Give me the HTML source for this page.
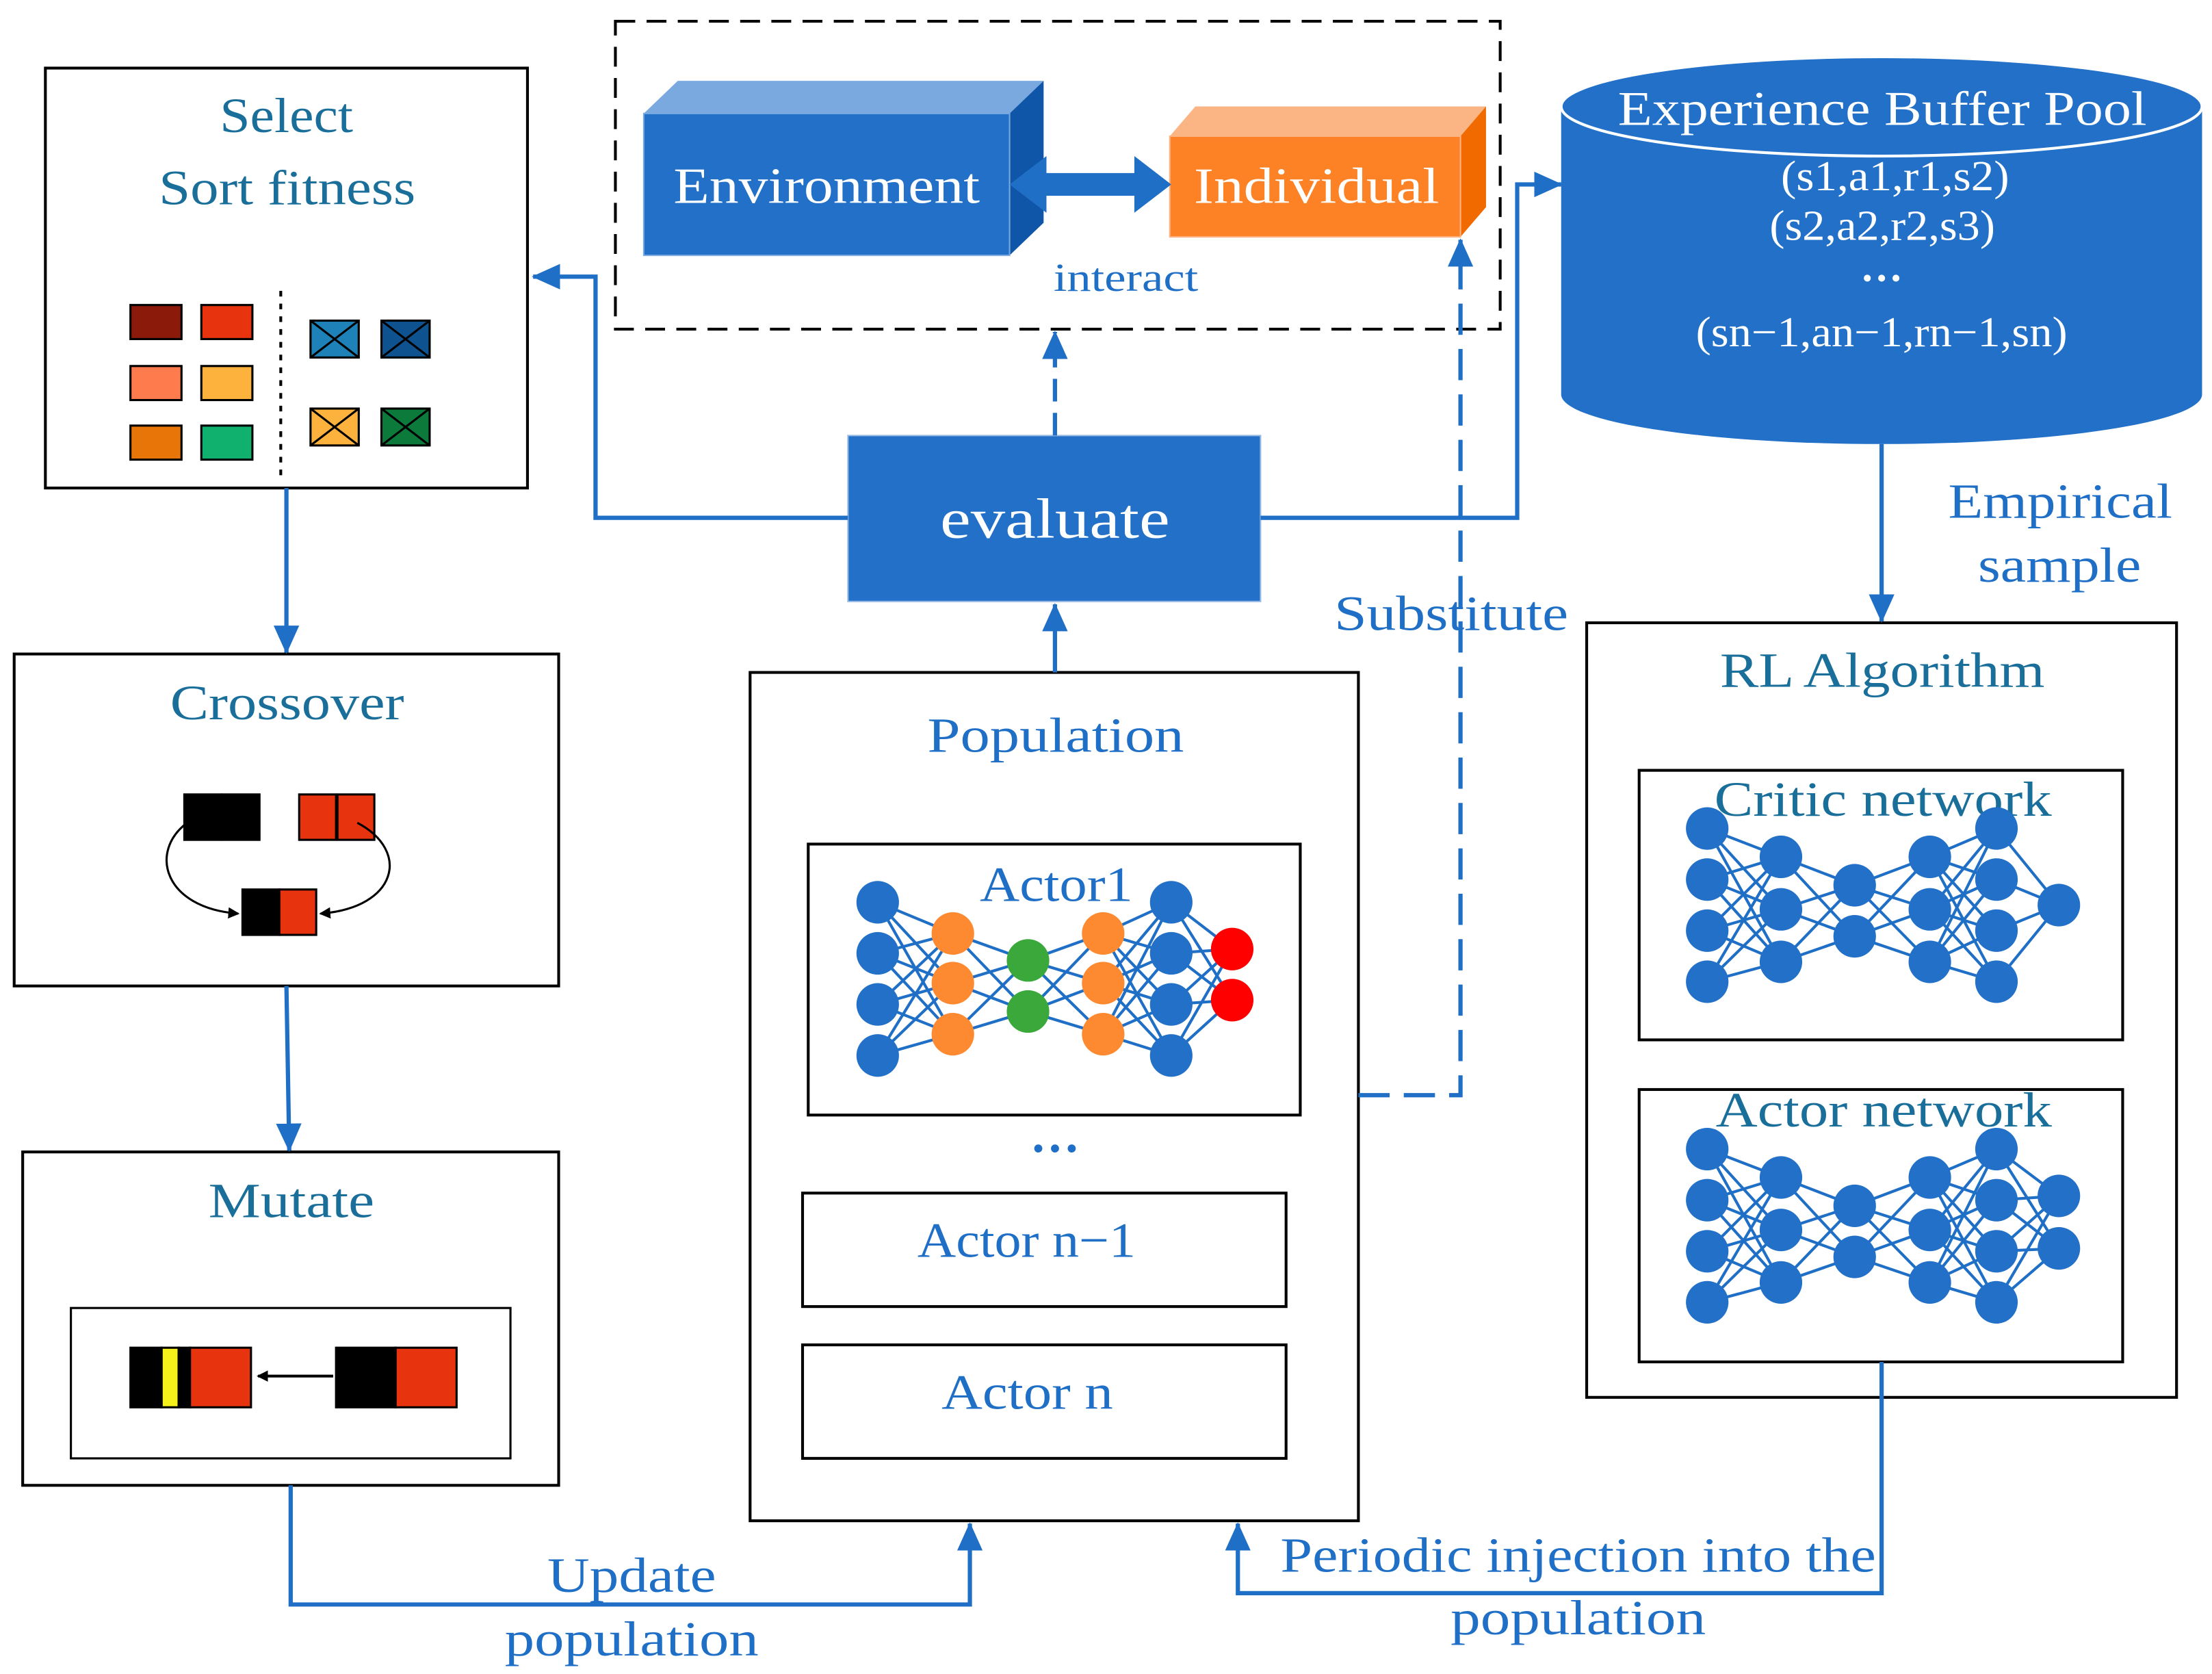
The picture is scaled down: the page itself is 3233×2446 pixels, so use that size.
<!DOCTYPE html>
<html><head><meta charset="utf-8"><style>
html,body{margin:0;padding:0;background:#fff}
svg{display:block}
text{font-family:"Liberation Serif",serif}
</style></head><body>
<svg id="s" width="3233" height="2446" viewBox="0 0 1560 1180" preserveAspectRatio="none" xmlns="http://www.w3.org/2000/svg">
<defs>
<marker id="ah2" markerWidth="20" markerHeight="20" refX="19" refY="10" orient="auto" markerUnits="userSpaceOnUse"><path d="M0,1 L20,10 L0,19 Z" fill="#1f6fc6"/></marker>
<marker id="bk" markerWidth="8" markerHeight="8" refX="7" refY="4" orient="auto" markerUnits="userSpaceOnUse"><path d="M0,0 L8,4 L0,8 Z" fill="#000"/></marker>
</defs>
<g fill="none" stroke="#000" stroke-width="2">
<rect x="32" y="48" width="340" height="296"/>
<rect x="10" y="461" width="384" height="234"/>
<rect x="16" y="812" width="378" height="235"/>
<rect x="50" y="922" width="310" height="106" stroke-width="1.5"/>
<rect x="529" y="474" width="429" height="598"/>
<rect x="570" y="595" width="347" height="191"/>
<rect x="566" y="841" width="341" height="80"/>
<rect x="566" y="948" width="341" height="80"/>
<rect x="1119" y="439" width="416" height="546"/>
<rect x="1156" y="543" width="341" height="190"/>
<rect x="1156" y="768" width="341" height="192"/>
<rect x="434" y="15" width="624" height="217" stroke-dasharray="14,8"/>
<line x1="198" y1="205" x2="198" y2="335" stroke-dasharray="4,5"/>
</g>
<g stroke="#000" stroke-width="1.5">
<rect x="92" y="215" width="36" height="24" fill="#8b1a0a"/><rect x="142" y="215" width="36" height="24" fill="#e8340e"/>
<rect x="92" y="258" width="36" height="24" fill="#fd7b4d"/><rect x="142" y="258" width="36" height="24" fill="#fdb23e"/>
<rect x="92" y="300" width="36" height="24" fill="#e87508"/><rect x="142" y="300" width="36" height="24" fill="#10b06e"/>
<rect x="219" y="226" width="34" height="26" fill="#1e82b8"/><rect x="269" y="226" width="34" height="26" fill="#0e5290"/>
<rect x="219" y="288" width="34" height="26" fill="#fdb23e"/><rect x="269" y="288" width="34" height="26" fill="#0c7a3a"/>
<path d="M219,226 L253,252 M253,226 L219,252 M269,226 L303,252 M303,226 L269,252 M219,288 L253,314 M253,288 L219,314 M269,288 L303,314 M303,288 L269,314" fill="none"/>
</g>
<g stroke="#000" stroke-width="1.5">
<rect x="130" y="560" width="26" height="32" fill="#000"/><rect x="157" y="560" width="26" height="32" fill="#000"/>
<rect x="211" y="560" width="26" height="32" fill="#e8340e"/><rect x="238" y="560" width="26" height="32" fill="#e8340e"/>
<rect x="171" y="627" width="26" height="32" fill="#000"/><rect x="197" y="627" width="26" height="32" fill="#e8340e"/>
</g>
<path d="M132,580 C105,600 115,640 168,644" fill="none" stroke="#000" stroke-width="1.5" marker-end="url(#bk)"/>
<path d="M252,580 C290,600 280,640 226,644" fill="none" stroke="#000" stroke-width="1.5" marker-end="url(#bk)"/>
<g stroke="#000" stroke-width="1.5">
<rect x="92" y="950" width="22" height="42" fill="#000"/><rect x="114" y="950" width="12" height="42" fill="#f5f01a"/><rect x="126" y="950" width="8" height="42" fill="#000"/><rect x="134" y="950" width="43" height="42" fill="#e8340e"/>
<rect x="237" y="950" width="42" height="42" fill="#000"/><rect x="279" y="950" width="43" height="42" fill="#e8340e"/>
</g>
<line x1="235" y1="970" x2="182" y2="970" stroke="#000" stroke-width="2" marker-end="url(#bk)"/>
<polygon points="454,80 478,57 736,57 712,80" fill="#7aa9e0"/>
<polygon points="712,80 736,57 736,157 712,180" fill="#0f55a8"/>
<rect x="454" y="80" width="258" height="100" fill="#2270c8" stroke="#7aa9e0" stroke-width="1"/>
<polygon points="825,96 843,75 1048,75 1030,96" fill="#fbb584"/>
<polygon points="1030,96 1048,75 1048,146 1030,167" fill="#f06a00"/>
<rect x="825" y="96" width="205" height="71" fill="#fd8125" stroke="#fbb584" stroke-width="1"/>
<text x="475" y="143" font-size="36" fill="#fff" textLength="216" lengthAdjust="spacingAndGlyphs">Environment</text>
<text x="842" y="143" font-size="36" fill="#fff" textLength="173" lengthAdjust="spacingAndGlyphs">Individual</text>
<polygon points="712,130 738,110 738,122 800,122 800,110 826,130 800,150 800,138 738,138 738,150" fill="#1f6fc6"/>
<text x="743" y="205" font-size="28" fill="#1f6fc6" textLength="102" lengthAdjust="spacingAndGlyphs">interact</text>
<rect x="598" y="307" width="291" height="117" fill="#2270c8" stroke="#9bbbe4"/>
<text x="663" y="379" font-size="40" fill="#fff" textLength="162" lengthAdjust="spacingAndGlyphs">evaluate</text>
<path d="M1101,75 L1101,278 A226,35 0 0 0 1553,278 L1553,75 Z" fill="#2270c8"/>
<ellipse cx="1327" cy="75" rx="226" ry="35" fill="#2270c8" stroke="#fff" stroke-width="2"/>
<g fill="#fff" font-size="30" lengthAdjust="spacingAndGlyphs">
<text x="1141" y="88" font-size="34" textLength="373" lengthAdjust="spacingAndGlyphs">Experience Buffer Pool</text>
<text x="1256" y="134" textLength="161" lengthAdjust="spacingAndGlyphs">(s1,a1,r1,s2)</text>
<text x="1248" y="169" textLength="159" lengthAdjust="spacingAndGlyphs">(s2,a2,r2,s3)</text>
<text x="1327" y="198" font-weight="bold" text-anchor="middle">…</text>
<text x="1196" y="244" textLength="262" lengthAdjust="spacingAndGlyphs">(sn−1,an−1,rn−1,sn)</text>
</g>
<g fill="none" stroke="#1f6fc6" stroke-width="3">
<path d="M598,365 L420,365 L420,195 L376,195" marker-end="url(#ah2)"/>
<path d="M889,365 L1070,365 L1070,130 L1101,130" marker-end="url(#ah2)"/>
<path d="M744,307 L744,234" stroke-dasharray="16,8" marker-end="url(#ah2)"/>
<path d="M744,474 L744,426" marker-end="url(#ah2)"/>
<path d="M958,772 L1030,772 L1030,169" stroke-dasharray="22,10" marker-end="url(#ah2)"/>
<path d="M202,344 L202,460" marker-end="url(#ah2)"/>
<path d="M202,695 L204,811" marker-end="url(#ah2)"/>
<path d="M205,1047 L205,1131 L684,1131 L684,1074" marker-end="url(#ah2)"/>
<path d="M1327,960 L1327,1123 L873,1123 L873,1074" marker-end="url(#ah2)"/>
<path d="M1327,313 L1327,438" marker-end="url(#ah2)"/>
</g>
<g font-size="35">
<text x="155" y="93" fill="#1a6e9a" textLength="94" lengthAdjust="spacingAndGlyphs">Select</text>
<text x="112" y="144" fill="#1a6e9a" textLength="181" lengthAdjust="spacingAndGlyphs">Sort fitness</text>
<text x="120" y="507" fill="#1a6e9a" textLength="165" lengthAdjust="spacingAndGlyphs">Crossover</text>
<text x="147" y="858" fill="#1a6e9a" textLength="117" lengthAdjust="spacingAndGlyphs">Mutate</text>
<text x="654" y="530" fill="#1f6fc6" textLength="181" lengthAdjust="spacingAndGlyphs">Population</text>
<text x="691" y="635" fill="#1f6fc6" textLength="108" lengthAdjust="spacingAndGlyphs">Actor1</text>
<text x="744" y="812" fill="#1f6fc6" font-weight="bold" text-anchor="middle">…</text>
<text x="647" y="886" fill="#1f6fc6" textLength="154" lengthAdjust="spacingAndGlyphs">Actor n−1</text>
<text x="664" y="993" fill="#1f6fc6" textLength="121" lengthAdjust="spacingAndGlyphs">Actor n</text>
<text x="1213" y="484" fill="#1a6e9a" textLength="229" lengthAdjust="spacingAndGlyphs">RL Algorithm</text>
<text x="1209" y="575" fill="#1a6e9a" textLength="238" lengthAdjust="spacingAndGlyphs">Critic network</text>
<text x="1210" y="794" fill="#1a6e9a" textLength="237" lengthAdjust="spacingAndGlyphs">Actor network</text>
<text x="941" y="444" fill="#1f6fc6" textLength="165" lengthAdjust="spacingAndGlyphs">Substitute</text>
<text x="1374" y="365" fill="#1f6fc6" textLength="158" lengthAdjust="spacingAndGlyphs">Empirical</text>
<text x="1395" y="410" fill="#1f6fc6" textLength="115" lengthAdjust="spacingAndGlyphs">sample</text>
<text x="386" y="1122" fill="#1f6fc6" textLength="119" lengthAdjust="spacingAndGlyphs">Update</text>
<text x="356" y="1167" fill="#1f6fc6" textLength="179" lengthAdjust="spacingAndGlyphs">population</text>
<text x="903" y="1108" fill="#1f6fc6" textLength="420" lengthAdjust="spacingAndGlyphs">Periodic injection into the</text>
<text x="1023" y="1152" fill="#1f6fc6" textLength="180" lengthAdjust="spacingAndGlyphs">population</text>
</g>
<g id="nets"></g>
</svg>
<script>
var g=document.getElementById('nets'),NS='http://www.w3.org/2000/svg';
function net(cols,r){
 for(var i=0;i<cols.length-1;i++){var a=cols[i],b=cols[i+1];
  a.y.forEach(function(y1){b.y.forEach(function(y2){var l=document.createElementNS(NS,'line');
   l.setAttribute('x1',a.x);l.setAttribute('y1',y1);l.setAttribute('x2',b.x);l.setAttribute('y2',y2);
   l.setAttribute('stroke','#1f6fc6');l.setAttribute('stroke-width','2');g.appendChild(l);});});}
 cols.forEach(function(c){c.y.forEach(function(y){var e=document.createElementNS(NS,'circle');
  e.setAttribute('cx',c.x);e.setAttribute('cy',y);e.setAttribute('r',r);e.setAttribute('fill',c.c);g.appendChild(e);});});
}
var B='#2270c8';
net([{x:619,y:[636,672,708,744],c:B},{x:672,y:[658,693,729],c:'#fd8a30'},{x:725,y:[677,713],c:'#3aa83a'},{x:778,y:[658,693,729],c:'#fd8a30'},{x:826,y:[636,672,708,744],c:B},{x:869,y:[669,705],c:'#f00'}],15);
function rl(d,last){net([{x:1204,y:[584+d,620+d,656+d,692+d],c:B},{x:1256,y:[604+d,641+d,678+d],c:B},{x:1308,y:[624+d,660+d],c:B},{x:1361,y:[604+d,641+d,678+d],c:B},{x:1408,y:[584+d,620+d,656+d,692+d],c:B},{x:1452,y:last,c:B}],15);}
rl(0,[638]);rl(226,[843,880]);
</script>
</body></html>
